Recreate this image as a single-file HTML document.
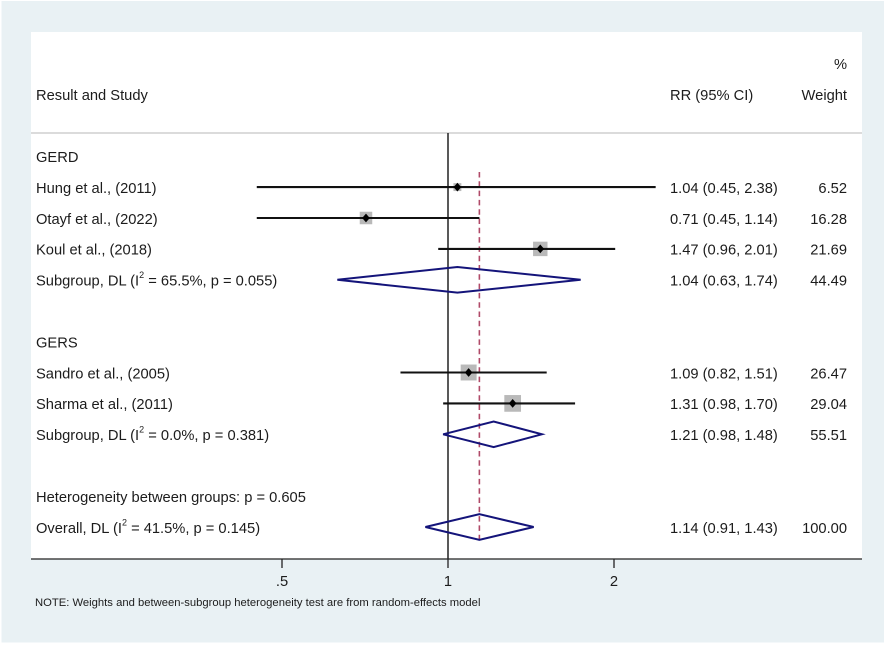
<!DOCTYPE html>
<html lang="en">
<head>
<meta charset="utf-8">
<title>Forest plot</title>
<style>
html,body{margin:0;padding:0;background:#fff;width:886px;height:645px;overflow:hidden}
svg{display:block}
text{font-family:"Liberation Sans",Arial,sans-serif;fill:#1c1c1c}
.t{font-size:14.7px}
.sup{font-size:9px}
</style>
</head>
<body>
<svg id="chart" width="886" height="645" viewBox="0 0 886 645" xmlns="http://www.w3.org/2000/svg">
  <rect x="1.5" y="1" width="882.5" height="641.5" fill="#e9f1f4"/>
  <rect x="31" y="32" width="831" height="527" fill="#ffffff"/>
  <line x1="31" x2="862" y1="133" y2="133" stroke="#cfcfcf" stroke-width="1.5"/>
  <text class="t" x="36" y="100">Result and Study</text>
  <text class="t" x="670" y="100">RR (95% CI)</text>
  <text class="t" x="847" y="69" text-anchor="end">%</text>
  <text class="t" x="847" y="100" text-anchor="end">Weight</text>
  <g id="marks"></g>
  <g id="labels"></g>
  <text x="35" y="606" style="font-size:11.25px">NOTE: Weights and between-subgroup heterogeneity test are from random-effects model</text>
</svg>
<script>
// Chart data
var studyNames = ["Hung et al., (2011)", "Otayf et al., (2022)", "Koul et al., (2018)", "Sandro et al., (2005)", "Sharma et al., (2011)"];
var studyRows = [1, 2, 3, 7, 8];
var studyRR = [1.04, 0.71, 1.47, 1.09, 1.31];
var studyLow = [0.45, 0.45, 0.96, 0.82, 0.98];
var studyHigh = [2.38, 1.14, 2.01, 1.51, 1.70];
var studyWeight = [6.52, 16.28, 21.69, 26.47, 29.04];

var summaryNames = ["Subgroup, DL (I", "Subgroup, DL (I", "Overall, DL (I"];
var summaryStats = [" = 65.5%, p = 0.055)", " = 0.0%, p = 0.381)", " = 41.5%, p = 0.145)"];
var summaryRows = [4, 9, 12];
var summaryRR = [1.04, 1.21, 1.14];
var summaryLow = [0.63, 0.98, 0.91];
var summaryHigh = [1.74, 1.48, 1.43];
var summaryWeight = [44.49, 55.51, 100.00];

var headingNames = ["GERD", "GERS", "Heterogeneity between groups: p = 0.605"];
var headingRows = [0, 6, 11];

var tickValues = [0.5, 1, 2];
var tickLabels = [".5", "1", "2"];
var overallValue = 1.14;

// Axis functions
function xScale(v) { return 448 + 166 * Math.log(v) / Math.LN2; }
function yScale(r) { return 156.6 + 30.9 * r; }

var NS = "http://www.w3.org/2000/svg";
var marks = document.getElementById("marks");
var labels = document.getElementById("labels");
function make(tag, attrs, parent) {
  var el = document.createElementNS(NS, tag);
  for (var k in attrs) el.setAttribute(k, attrs[k]);
  parent.appendChild(el);
  return el;
}
function addText(parent, x, y, str, anchor) {
  var el = make("text", {x: x, y: y, "class": "t"}, parent);
  if (anchor) el.setAttribute("text-anchor", anchor);
  el.textContent = str;
  return el;
}
function ciText(rr, lo, hi) { return rr.toFixed(2) + " (" + lo.toFixed(2) + ", " + hi.toFixed(2) + ")"; }

// Null line and overall reference line
var nullLine = make("line", {x1: xScale(1), x2: xScale(1), y1: 133, y2: 559, stroke: "#222", "stroke-width": 1.5}, marks);



// Boxes first, so lines draw on top
studyRR.forEach(function (rr, i) {
  var cx = xScale(rr), cy = yScale(studyRows[i]) - 0.4;
  var side = 3.1 * Math.sqrt(studyWeight[i]);
  var box = make("rect", {x: cx - side / 2, y: cy - side / 2, width: side, height: side, fill: "#b9b9b9"}, marks);
  
  
});

var overallLine = make("line", {x1: xScale(overallValue), x2: xScale(overallValue), y1: 172, y2: 542, stroke: "#b04a68", "stroke-width": 1.6, "stroke-dasharray": "5.5 3.8"}, marks);



studyRR.forEach(function (rr, i) {
  var cy = yScale(studyRows[i]) - 0.4;
  var ci = make("line", {x1: xScale(studyLow[i]), x2: xScale(studyHigh[i]), y1: cy, y2: cy, stroke: "#111", "stroke-width": 2.1}, marks);
  
  
  var cx = xScale(rr);
  var pt = make("polygon", {points: (cx - 3.8) + "," + cy + " " + cx + "," + (cy - 4.4) + " " + (cx + 3.8) + "," + cy + " " + cx + "," + (cy + 4.4), fill: "#000"}, marks);
  
  
  var name = addText(labels, 36, yScale(studyRows[i]) + 5.4, studyNames[i]);
  
  
  var est = addText(labels, 670, yScale(studyRows[i]) + 5.4, ciText(rr, studyLow[i], studyHigh[i]));
  
  
  var wt = addText(labels, 847, yScale(studyRows[i]) + 5.4, studyWeight[i].toFixed(2), "end");
  
  
});

summaryRR.forEach(function (rr, i) {
  var cy = yScale(summaryRows[i]) - 0.4, h = 12.8;
  var pts = [[xScale(summaryLow[i]), cy], [xScale(rr), cy - h], [xScale(summaryHigh[i]), cy], [xScale(rr), cy + h]];
  var d = make("polygon", {points: pts.map(function (p) { return p.join(","); }).join(" "), fill: "none", stroke: "#14147a", "stroke-width": 2}, marks);
  
  
  var y = yScale(summaryRows[i]) + 5.4;
  var lab = addText(labels, 36, y, summaryNames[i]);
  
  
  var sup = make("tspan", {"class": "sup", dy: -7.5}, lab);
  sup.textContent = "2";
  var rest = make("tspan", {dy: 7.5}, lab);
  rest.textContent = summaryStats[i];
  var est = addText(labels, 670, y, ciText(rr, summaryLow[i], summaryHigh[i]));
  
  
  var wt = addText(labels, 847, y, summaryWeight[i].toFixed(2), "end");
  
  
});

headingNames.forEach(function (h, i) {
  var el = addText(labels, 36, yScale(headingRows[i]) + 5.4, h);
  
  
});

// X axis
var axis = make("line", {x1: 31, x2: 862, y1: 559, y2: 559, stroke: "#222", "stroke-width": 1.3}, marks);


tickValues.forEach(function (v, i) {
  var tick = make("line", {x1: xScale(v), x2: xScale(v), y1: 559, y2: 568, stroke: "#222", "stroke-width": 1.3}, marks);
  
  
  var lab = addText(labels, xScale(v), 586, tickLabels[i], "middle");
  
  
});
</script>
</body>
</html>
